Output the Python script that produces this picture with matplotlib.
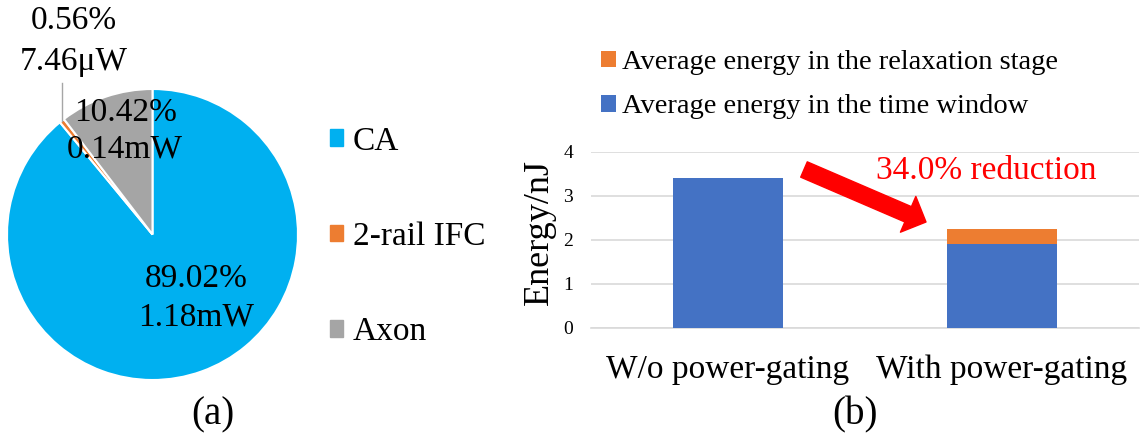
import numpy as np
import matplotlib
matplotlib.use('Agg')
import matplotlib.pyplot as plt
import matplotlib.patches as mpatches

plt.rcParams['font.family'] = ['Liberation Serif', 'DejaVu Serif']

# (a) power breakdown
parts = ['CA', '2-rail IFC', 'Axon']
share = [89.02, 0.56, 10.42]          # percent
power = ['1.18mW', '7.46\u03bcW', '0.14mW']
pie_colors = ['#00B0F0', '#ED7D31', '#A5A5A5']

# (b) energy per case
cases = ['W/o power-gating', 'With power-gating']
window_energy = [3.41, 1.91]
relax_energy = [0.0, 0.34]
series_names = ['Average energy in the time window', 'Average energy in the relaxation stage']
bar_colors = ['#4472C4', '#ED7D31']
reduction = 34.0

W, H = 1141, 438
fig = plt.figure(figsize=(W / 100, H / 100), dpi=100)

def px_box(x0, y0, x1, y1):
    # pixel box (top-left origin) -> figure fraction rect
    return [x0 / W, (H - y1) / H, (x1 - x0) / W, (y1 - y0) / H]

# ---- pie ----
cx, cy, r = 152.5, 234.5, 145.5
axp = fig.add_axes(px_box(cx - r, cy - r, cx + r, cy + r))
axp.pie(share, colors=pie_colors, startangle=90, counterclock=False, radius=1,
        wedgeprops=dict(edgecolor='white', linewidth=1.5))
axp.set_xlim(-1, 1)
axp.set_ylim(-1, 1)
axp.axis('off')

lab = [f'{s:.2f}%' for s in share]
fs = 24
axp.text(0.30, -0.361, lab[0], ha='center', va='baseline', fontsize=fs)
axp.text(0.30, -0.622, power[0], ha='center', va='baseline', fontsize=fs)
axp.text(-0.185, 0.78, lab[2], ha='center', va='baseline', fontsize=fs)
axp.text(-0.19, 0.526, power[2], ha='center', va='baseline', fontsize=fs)
axp.text(-0.54, 1.412, lab[1], ha='center', va='baseline', fontsize=fs)
axp.text(-0.54, 1.131, power[1], ha='center', va='baseline', fontsize=fs)

# leader line for the tiny IFC slice
mid = np.deg2rad(90 - 360 * (share[0] + share[1] / 2) / 100)
lx, ly = np.cos(mid), np.sin(mid)
axp.plot([lx, lx], [ly, 1.04], color='#A6A6A6', lw=1, clip_on=False)

pie_handles = [mpatches.Patch(color=c) for c in pie_colors]
fig.legend(pie_handles, parts, loc='upper left', bbox_to_anchor=(330 / W, 1 - 126 / H),
           frameon=False, fontsize=24, handlelength=0.39, handleheight=0.39,
           handletextpad=0.3, labelspacing=1.95, borderpad=0, borderaxespad=0)

fig.text(213 / W, 1 - 415 / H, '(a)', ha='center', va='center', fontsize=28)

# ---- stacked bars ----
ax = fig.add_axes(px_box(591, 152, 1139, 328))
x = np.arange(len(cases))
b1 = ax.bar(x, window_energy, width=0.40, color=bar_colors[0], zorder=3)
b2 = ax.bar(x, relax_energy, width=0.40, bottom=window_energy, color=bar_colors[1], zorder=3)
ax.set_xlim(-0.5, 1.5)
ax.set_ylim(0, 4)
ax.set_yticks([0, 1, 2, 3, 4])
ax.yaxis.grid(True, color='#D9D9D9', lw=1.2, zorder=0)
for s in ['top', 'right', 'left']:
    ax.spines[s].set_visible(False)
ax.spines['bottom'].set_color('#D9D9D9')
ax.spines['bottom'].set_linewidth(1.2)
ax.set_xticks(x, cases)
ax.tick_params(axis='x', length=0, labelsize=24, pad=19)
ax.tick_params(axis='y', length=0, labelsize=14, pad=13)
ax.set_ylabel('Energy/nJ', fontsize=26, va='center')
ax.yaxis.set_label_coords(-0.095, 0.548)

ax.legend([b2, b1], series_names[::-1], loc='upper left',
          bbox_to_anchor=(601 / W, 1 - 50 / H), bbox_transform=fig.transFigure,
          frameon=False, fontsize=20.5, handlelength=0.53, handleheight=0.53,
          handletextpad=0.22, labelspacing=0.68, borderpad=0, borderaxespad=0)

ax.text(0.721, 0.847, f'{reduction:.1f}% reduction', transform=ax.transAxes,
        ha='center', va='baseline', fontsize=24, color='#FF0000')
ax.annotate('', xy=(926, H - 222), xytext=(804, H - 169.5),
            xycoords='figure pixels', textcoords='figure pixels',
            arrowprops=dict(arrowstyle='simple,head_length=14,head_width=28,tail_width=12',
                            mutation_scale=1, color='#FF0000', shrinkA=0, shrinkB=0))

fig.text(855 / W, 1 - 415 / H, '(b)', ha='center', va='center', fontsize=28)

fig.savefig('out.png', dpi=100)
